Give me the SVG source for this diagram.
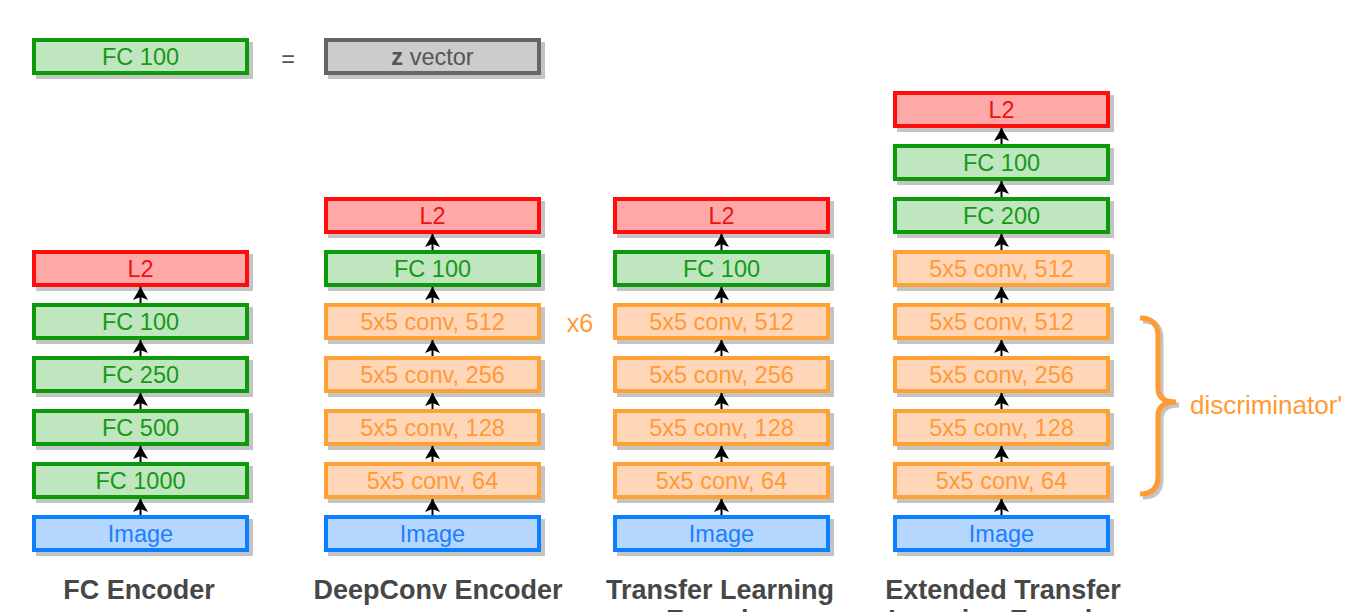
<svg xmlns="http://www.w3.org/2000/svg" width="1349" height="612" viewBox="0 0 1349 612">
<defs>
<style>
.sh{fill:#c4c4c4}
.g{fill:#bfe6bf;stroke:#0a9a0a;stroke-width:4}
.r{fill:#ffa8a8;stroke:#ff0d0d;stroke-width:4}
.o{fill:#ffd6b8;stroke:#ffa236;stroke-width:4}
.b{fill:#b5d6ff;stroke:#0a80ff;stroke-width:4}
.k{fill:#cccccc;stroke:#666666;stroke-width:4}
text{font-family:"Liberation Sans",Arial,Helvetica,sans-serif;font-size:23.5px;text-anchor:middle}
.tg{fill:#159a15}.tr{fill:#f01010}.to{fill:#ff9a35}.tb{fill:#1a80ff}.tk{fill:#555555}
.title{font-weight:bold;font-size:27px;fill:#474747}
.conn line{stroke:#000;stroke-width:2}
</style>
<marker id="ah" markerUnits="userSpaceOnUse" markerWidth="15" markerHeight="15" refX="13" refY="7.5" orient="auto">
<path d="M0,0 L13,7.5 L0,15 L3,7.5 z" fill="#000"/>
</marker>
</defs>
<rect width="1349" height="612" fill="#ffffff"/>

<!-- legend -->
<g id="legend-fc100">
<rect class="sh" x="36" y="42" width="217" height="37"/>
<rect class="g" x="34" y="40" width="213" height="33"/>
<text class="tg" x="140.5" y="65">FC 100</text>
</g>
<g id="legend-eq"><text class="tk" x="288" y="67">=</text></g>
<g id="legend-z">
<rect class="sh" x="328" y="42" width="217" height="37"/>
<rect class="k" x="326" y="40" width="213" height="33"/>
<text class="tk" x="432.5" y="65"><tspan font-weight="bold">z</tspan> vector</text>
</g>

<!-- Column 1: FC Encoder -->
<g id="c1-l2"><rect class="sh" x="36" y="254" width="217" height="37"/><rect class="r" x="34" y="252" width="213" height="33"/><text class="tr" x="140.5" y="277">L2</text></g>
<g id="c1-fc100"><rect class="sh" x="36" y="307" width="217" height="37"/><rect class="g" x="34" y="305" width="213" height="33"/><text class="tg" x="140.5" y="330">FC 100</text></g>
<g id="c1-fc250"><rect class="sh" x="36" y="360" width="217" height="37"/><rect class="g" x="34" y="358" width="213" height="33"/><text class="tg" x="140.5" y="383">FC 250</text></g>
<g id="c1-fc500"><rect class="sh" x="36" y="413" width="217" height="37"/><rect class="g" x="34" y="411" width="213" height="33"/><text class="tg" x="140.5" y="436">FC 500</text></g>
<g id="c1-fc1000"><rect class="sh" x="36" y="466" width="217" height="37"/><rect class="g" x="34" y="464" width="213" height="33"/><text class="tg" x="140.5" y="489">FC 1000</text></g>
<g id="c1-image"><rect class="sh" x="36" y="519" width="217" height="37"/><rect class="b" x="34" y="517" width="213" height="33"/><text class="tb" x="140.5" y="542">Image</text></g>
<g id="c1-title"><text class="title" x="139" y="599">FC Encoder</text></g>

<!-- Column 2: DeepConv Encoder -->
<g id="c2-l2"><rect class="sh" x="328" y="201" width="217" height="37"/><rect class="r" x="326" y="199" width="213" height="33"/><text class="tr" x="432.5" y="224">L2</text></g>
<g id="c2-fc100"><rect class="sh" x="328" y="254" width="217" height="37"/><rect class="g" x="326" y="252" width="213" height="33"/><text class="tg" x="432.5" y="277">FC 100</text></g>
<g id="c2-conv512"><rect class="sh" x="328" y="307" width="217" height="37"/><rect class="o" x="326" y="305" width="213" height="33"/><text class="to" x="432.5" y="330">5x5 conv, 512</text></g>
<g id="c2-conv256"><rect class="sh" x="328" y="360" width="217" height="37"/><rect class="o" x="326" y="358" width="213" height="33"/><text class="to" x="432.5" y="383">5x5 conv, 256</text></g>
<g id="c2-conv128"><rect class="sh" x="328" y="413" width="217" height="37"/><rect class="o" x="326" y="411" width="213" height="33"/><text class="to" x="432.5" y="436">5x5 conv, 128</text></g>
<g id="c2-conv64"><rect class="sh" x="328" y="466" width="217" height="37"/><rect class="o" x="326" y="464" width="213" height="33"/><text class="to" x="432.5" y="489">5x5 conv, 64</text></g>
<g id="c2-image"><rect class="sh" x="328" y="519" width="217" height="37"/><rect class="b" x="326" y="517" width="213" height="33"/><text class="tb" x="432.5" y="542">Image</text></g>
<g id="c2-x6"><text class="to" x="580" y="332" style="font-size:25px">x6</text></g>
<g id="c2-title"><text class="title" x="438" y="599">DeepConv Encoder</text></g>

<!-- Column 3: Transfer Learning Encoder -->
<g id="c3-l2"><rect class="sh" x="617" y="201" width="217" height="37"/><rect class="r" x="615" y="199" width="213" height="33"/><text class="tr" x="721.5" y="224">L2</text></g>
<g id="c3-fc100"><rect class="sh" x="617" y="254" width="217" height="37"/><rect class="g" x="615" y="252" width="213" height="33"/><text class="tg" x="721.5" y="277">FC 100</text></g>
<g id="c3-conv512"><rect class="sh" x="617" y="307" width="217" height="37"/><rect class="o" x="615" y="305" width="213" height="33"/><text class="to" x="721.5" y="330">5x5 conv, 512</text></g>
<g id="c3-conv256"><rect class="sh" x="617" y="360" width="217" height="37"/><rect class="o" x="615" y="358" width="213" height="33"/><text class="to" x="721.5" y="383">5x5 conv, 256</text></g>
<g id="c3-conv128"><rect class="sh" x="617" y="413" width="217" height="37"/><rect class="o" x="615" y="411" width="213" height="33"/><text class="to" x="721.5" y="436">5x5 conv, 128</text></g>
<g id="c3-conv64"><rect class="sh" x="617" y="466" width="217" height="37"/><rect class="o" x="615" y="464" width="213" height="33"/><text class="to" x="721.5" y="489">5x5 conv, 64</text></g>
<g id="c3-image"><rect class="sh" x="617" y="519" width="217" height="37"/><rect class="b" x="615" y="517" width="213" height="33"/><text class="tb" x="721.5" y="542">Image</text></g>
<g id="c3-title"><text class="title" x="720" y="599">Transfer Learning</text><text class="title" x="720" y="629">Encoder</text></g>

<!-- Column 4: Extended Transfer Learning Encoder -->
<g id="c4-l2"><rect class="sh" x="897" y="95" width="217" height="37"/><rect class="r" x="895" y="93" width="213" height="33"/><text class="tr" x="1001.5" y="118">L2</text></g>
<g id="c4-fc100"><rect class="sh" x="897" y="148" width="217" height="37"/><rect class="g" x="895" y="146" width="213" height="33"/><text class="tg" x="1001.5" y="171">FC 100</text></g>
<g id="c4-fc200"><rect class="sh" x="897" y="201" width="217" height="37"/><rect class="g" x="895" y="199" width="213" height="33"/><text class="tg" x="1001.5" y="224">FC 200</text></g>
<g id="c4-conv512b"><rect class="sh" x="897" y="254" width="217" height="37"/><rect class="o" x="895" y="252" width="213" height="33"/><text class="to" x="1001.5" y="277">5x5 conv, 512</text></g>
<g id="c4-conv512"><rect class="sh" x="897" y="307" width="217" height="37"/><rect class="o" x="895" y="305" width="213" height="33"/><text class="to" x="1001.5" y="330">5x5 conv, 512</text></g>
<g id="c4-conv256"><rect class="sh" x="897" y="360" width="217" height="37"/><rect class="o" x="895" y="358" width="213" height="33"/><text class="to" x="1001.5" y="383">5x5 conv, 256</text></g>
<g id="c4-conv128"><rect class="sh" x="897" y="413" width="217" height="37"/><rect class="o" x="895" y="411" width="213" height="33"/><text class="to" x="1001.5" y="436">5x5 conv, 128</text></g>
<g id="c4-conv64"><rect class="sh" x="897" y="466" width="217" height="37"/><rect class="o" x="895" y="464" width="213" height="33"/><text class="to" x="1001.5" y="489">5x5 conv, 64</text></g>
<g id="c4-image"><rect class="sh" x="897" y="519" width="217" height="37"/><rect class="b" x="895" y="517" width="213" height="33"/><text class="tb" x="1001.5" y="542">Image</text></g>
<g id="c4-title"><text class="title" x="1003" y="599">Extended Transfer</text><text class="title" x="1003" y="629">Learning Encoder</text></g>

<!-- brace -->
<g id="discriminator">
<path d="M1140,318 Q1158,318 1158,336 L1158,388 Q1158,402 1176,402 Q1158,402 1158,416 L1158,476 Q1158,494 1140,494" fill="none" stroke="#c4c4c4" stroke-width="5" transform="translate(3,3)"/>
<path d="M1140,318 Q1158,318 1158,336 L1158,388 Q1158,402 1176,402 Q1158,402 1158,416 L1158,476 Q1158,494 1140,494" fill="none" stroke="#ff9a35" stroke-width="5"/>
<text class="to" x="1190" y="414" style="text-anchor:start;font-size:26px">discriminator'</text>
</g>

<!-- connectors -->
<g id="connectors" class="conn">
<line x1="140.5" y1="515" x2="140.5" y2="499" marker-end="url(#ah)"/>
<line x1="140.5" y1="462" x2="140.5" y2="446" marker-end="url(#ah)"/>
<line x1="140.5" y1="409" x2="140.5" y2="393" marker-end="url(#ah)"/>
<line x1="140.5" y1="356" x2="140.5" y2="340" marker-end="url(#ah)"/>
<line x1="140.5" y1="303" x2="140.5" y2="287" marker-end="url(#ah)"/>

<line x1="432.5" y1="515" x2="432.5" y2="499" marker-end="url(#ah)"/>
<line x1="432.5" y1="462" x2="432.5" y2="446" marker-end="url(#ah)"/>
<line x1="432.5" y1="409" x2="432.5" y2="393" marker-end="url(#ah)"/>
<line x1="432.5" y1="356" x2="432.5" y2="340" marker-end="url(#ah)"/>
<line x1="432.5" y1="303" x2="432.5" y2="287" marker-end="url(#ah)"/>
<line x1="432.5" y1="250" x2="432.5" y2="234" marker-end="url(#ah)"/>

<line x1="721.5" y1="515" x2="721.5" y2="499" marker-end="url(#ah)"/>
<line x1="721.5" y1="462" x2="721.5" y2="446" marker-end="url(#ah)"/>
<line x1="721.5" y1="409" x2="721.5" y2="393" marker-end="url(#ah)"/>
<line x1="721.5" y1="356" x2="721.5" y2="340" marker-end="url(#ah)"/>
<line x1="721.5" y1="303" x2="721.5" y2="287" marker-end="url(#ah)"/>
<line x1="721.5" y1="250" x2="721.5" y2="234" marker-end="url(#ah)"/>

<line x1="1001.5" y1="515" x2="1001.5" y2="499" marker-end="url(#ah)"/>
<line x1="1001.5" y1="462" x2="1001.5" y2="446" marker-end="url(#ah)"/>
<line x1="1001.5" y1="409" x2="1001.5" y2="393" marker-end="url(#ah)"/>
<line x1="1001.5" y1="356" x2="1001.5" y2="340" marker-end="url(#ah)"/>
<line x1="1001.5" y1="303" x2="1001.5" y2="287" marker-end="url(#ah)"/>
<line x1="1001.5" y1="250" x2="1001.5" y2="234" marker-end="url(#ah)"/>
<line x1="1001.5" y1="197" x2="1001.5" y2="181" marker-end="url(#ah)"/>
<line x1="1001.5" y1="144" x2="1001.5" y2="128" marker-end="url(#ah)"/>
</g>
</svg>
